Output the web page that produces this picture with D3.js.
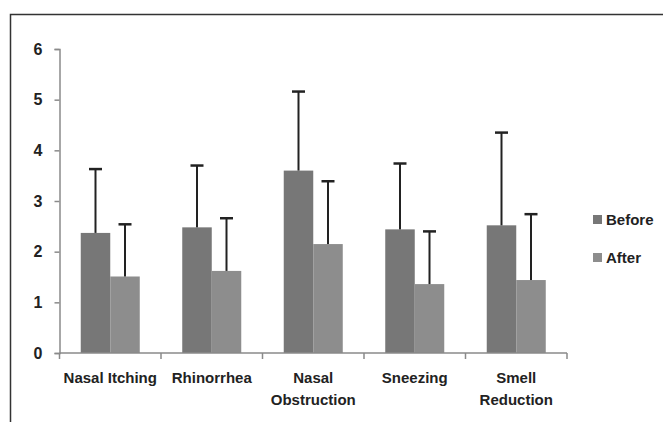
<!DOCTYPE html>
<html><head><meta charset="utf-8">
<script src="https://cdn.jsdelivr.net/npm/d3@7"></script>
<style>body{margin:0;background:#fff}svg{display:block}</style>
</head><body>
<script>
const categories = [["Nasal Itching"],["Rhinorrhea"],["Nasal","Obstruction"],["Sneezing"],["Smell","Reduction"]];
const seriesNames = ["Before","After"];
const beforeVals = [2.37, 2.48, 3.60, 2.44, 2.52];
const beforeErr  = [3.63, 3.70, 5.16, 3.74, 4.35];
const afterVals  = [1.51, 1.62, 2.15, 1.36, 1.44];
const afterErr   = [2.54, 2.66, 3.39, 2.40, 2.74];
const yTicks = [0,1,2,3,4,5,6];

const W = 663, H = 422;
const svg = d3.select("body").append("svg").attr("width", W).attr("height", H);
const font = "'Liberation Sans Narrow', 'Liberation Sans', sans-serif";

// frame
svg.append("path").attr("d", `M10.5,${H} L10.5,14.5 L${W},14.5`)
  .attr("fill","none").attr("stroke","#333").attr("stroke-width",1.5);

const x0 = 59.5, x1 = 567, yTop = 49, yBot = 353;
const keys = categories.map((c,i)=>i);
const x = d3.scaleBand().domain(keys).range([x0, x1]).paddingInner(0).paddingOuter(0);
const xs = d3.scaleBand().domain(seriesNames).range([0, x.bandwidth()]).paddingInner(0).paddingOuter(0.72);
const y = d3.scaleLinear().domain([0,6]).range([yBot, yTop]);

const colors = {Before:"#777777", After:"#8d8d8d"};
const data = keys.map(i => ({i, vals:[
  {s:"Before", v:beforeVals[i], e:beforeErr[i]},
  {s:"After", v:afterVals[i], e:afterErr[i]}]}));

const g = svg.append("g");
const grp = g.selectAll("g.cat").data(data).join("g").attr("transform", d=>`translate(${x(d.i)},0)`);
grp.selectAll("rect").data(d=>d.vals).join("rect")
  .attr("x", d=>xs(d.s)).attr("width", xs.bandwidth())
  .attr("y", d=>y(d.v)).attr("height", d=>y(0)-y(d.v))
  .attr("fill", d=>colors[d.s]);
// error bars
grp.selectAll("line.err").data(d=>d.vals).join("line").attr("class","err")
  .attr("x1", d=>xs(d.s)+xs.bandwidth()/2).attr("x2", d=>xs(d.s)+xs.bandwidth()/2)
  .attr("y1", d=>y(d.v)).attr("y2", d=>y(d.e))
  .attr("stroke","#222").attr("stroke-width",2);
grp.selectAll("line.cap").data(d=>d.vals).join("line").attr("class","cap")
  .attr("x1", d=>xs(d.s)+xs.bandwidth()/2-6.5).attr("x2", d=>xs(d.s)+xs.bandwidth()/2+6.5)
  .attr("y1", d=>y(d.e)).attr("y2", d=>y(d.e))
  .attr("stroke","#222").attr("stroke-width",2.5);

// y axis
const yAxis = svg.append("g").attr("transform",`translate(${x0},0)`)
  .call(d3.axisLeft(y).tickValues(yTicks).tickFormat(d3.format("d")).tickSize(5).tickPadding(12));
yAxis.select(".domain").attr("stroke","#8a8a8a").attr("stroke-width",1.5);
yAxis.selectAll(".tick line").attr("stroke","#8a8a8a").attr("stroke-width",1.5);
yAxis.selectAll("text").attr("font-family",font).attr("font-weight","bold")
  .attr("font-size",16).attr("fill","#222");

// x axis baseline with ticks at band boundaries
const bounds = keys.map(k=>x(k)).concat([x1]);
svg.append("line").attr("x1",x0).attr("x2",x1).attr("y1",yBot).attr("y2",yBot)
  .attr("stroke","#8a8a8a").attr("stroke-width",1.5);
svg.selectAll("line.xt").data(bounds).join("line").attr("class","xt")
  .attr("x1",d=>d).attr("x2",d=>d).attr("y1",yBot).attr("y2",yBot+6)
  .attr("stroke","#8a8a8a").attr("stroke-width",1.5);

// category labels
const lab = svg.selectAll("text.cat").data(keys).join("text").attr("class","cat")
  .attr("x", k=>x(k)+x.bandwidth()/2).attr("y", 383)
  .attr("text-anchor","middle").attr("font-family",font).attr("font-weight","bold")
  .attr("font-size",15).attr("fill","#222");
lab.selectAll("tspan").data(k=>categories[k]).join("tspan")
  .attr("x", function(){ return d3.select(this.parentNode).attr("x"); })
  .attr("dy", (d,i)=> i===0 ? 0 : 22).text(d=>d);

// legend
const leg = svg.selectAll("g.leg").data(seriesNames).join("g").attr("class","leg")
  .attr("transform",(d,i)=>`translate(593,${215+i*38})`);
leg.append("rect").attr("width",9).attr("height",9).attr("fill",d=>colors[d]);
leg.append("text").attr("x",13).attr("y",10).text(d=>d)
  .attr("font-family",font).attr("font-weight","bold").attr("font-size",15).attr("fill","#222");
</script>
</body></html>
